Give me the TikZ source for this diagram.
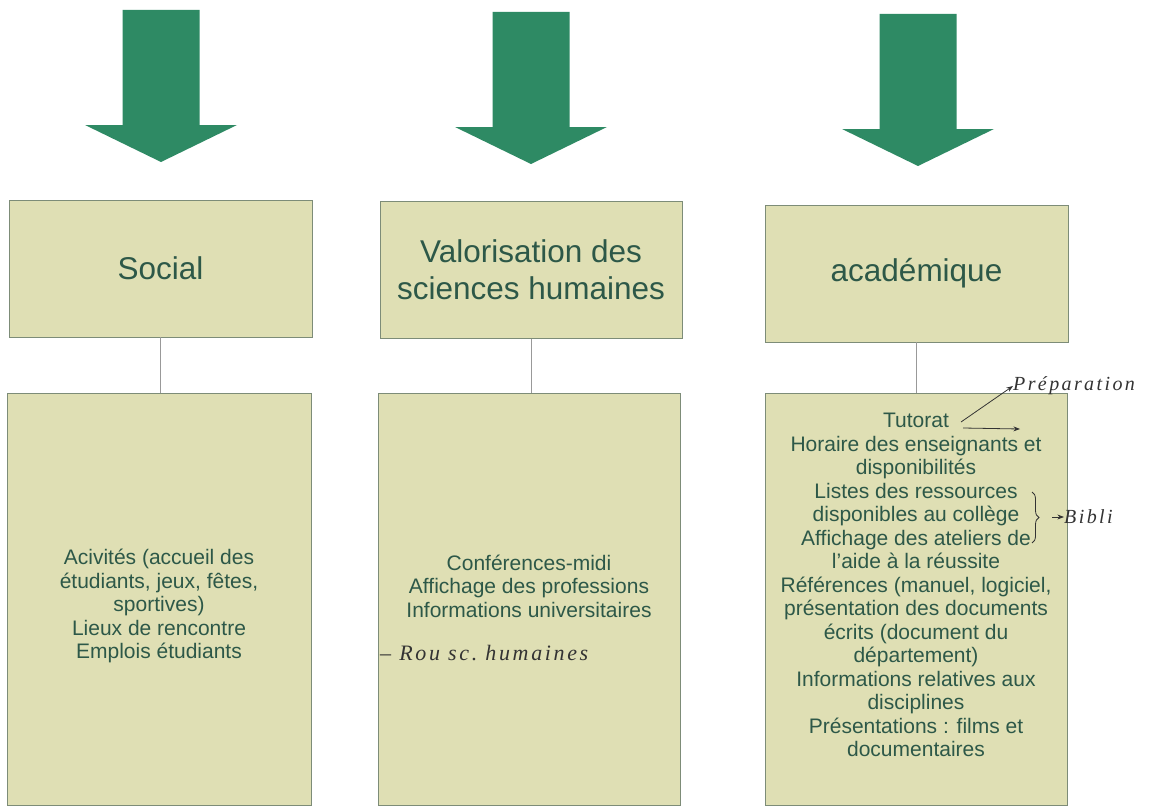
\documentclass[tikz,border=0pt]{standalone}
\usepackage{fontspec}
\setmainfont{Liberation Sans}
\newfontfamily\handfont[LetterSpace=12]{Liberation Serif}
\usetikzlibrary{arrows.meta, positioning, decorations.pathreplacing}

\definecolor{boxfill}{RGB}{223,223,180}
\definecolor{boxline}{RGB}{125,140,120}
\definecolor{arrowgreen}{RGB}{46,138,100}
\definecolor{textgreen}{RGB}{45,88,72}

\begin{document}
\begin{tikzpicture}[
    x=1pt, y=-1pt,
    title box/.style={rectangle, draw=boxline, fill=boxfill, minimum width=303pt, minimum height=137pt, inner sep=0pt, align=center, text=textgreen, font=\fontsize{31.5}{37}\selectfont},
    list box/.style={rectangle, draw=boxline, fill=boxfill, minimum width=303pt, minimum height=412pt, inner sep=0pt},
    list text/.style={inner sep=0pt, align=center, text=textgreen, font=\fontsize{21}{23.5}\selectfont},
    link/.style={draw=gray!80, line width=0.8pt},
    hand/.style={inner sep=0pt, text=black!80, font=\handfont\itshape\fontsize{20}{24}\selectfont},
    hand line/.style={black!80, line width=0.8pt},
    >=Stealth
]
    \fill[white] (0,0) rectangle (1160,808);
    \useasboundingbox (0,0) rectangle (1160,808);

    % Big arrows on top
    \foreach \tx/\ty in {161/10, 531/12, 918/14}
        \fill[arrowgreen] (\tx-38.5,\ty) -- (\tx+38.5,\ty) -- (\tx+38.5,\ty+115) -- (\tx+76,\ty+115)
            -- (\tx,\ty+152) -- (\tx-76,\ty+115) -- (\tx-38.5,\ty+115) -- cycle;

    % Headings
    \node[title box] (soc) at (160.5,268.5) {Social};
    \node[title box, minimum width=302pt] (val) at (531,270) {Valorisation des\\sciences humaines};
    \node[title box] (aca) at (916.5,273.5) {académique};

    % Lists
    \node[list box, minimum width=304pt] (socL) at (159,599) {};
    \node[list box, minimum width=302pt] (valL) at (529,599) {};
    \node[list box, minimum width=302pt] (acaL) at (916,599) {};

    \draw[link] (soc.south) -- (soc.south |- socL.north);
    \draw[link] (val.south) -- (val.south |- valL.north);
    \draw[link] (aca.south) -- (aca.south |- acaL.north);

    \node[list text] (socT) at (159,606) {Acivités (accueil des\\étudiants, jeux, fêtes,\\sportives)\\Lieux de rencontre\\Emplois étudiants};
    \node[list text] (valT) at (529,586) {Conférences-midi\\Affichage des professions\\Informations universitaires};
    \node[list text] (acaT) at (916,585) {Tutorat\\Horaire des enseignants et\\disponibilités\\Listes des ressources\\disponibles au collège\\Affichage des ateliers de\\l’aide à la réussite\\Références (manuel, logiciel,\\présentation des documents\\écrits (document du\\département)\\Informations relatives aux\\disciplines\\Présentations : films et\\documentaires};

    % Handwritten notes
    \coordinate (tutA) at (961,422);
    \coordinate (tutB) at (963,428);
    \coordinate (tutC) at (1020,429);
    \coordinate (brTop) at (1032,492);
    \coordinate (brBot) at (1032,543);
    \coordinate (brMid) at (1052,517);
    \node[hand, anchor=west] (prep) at (1013,386) {Préparation};
    \node[hand, anchor=west, right=12pt of brMid] (bib) {Bibli};
    \node[hand, anchor=west, font=\handfont\itshape\fontsize{22}{26}\selectfont] (rou) at (380,653) {– Rou sc.\ humaines};
    \draw[hand line, ->] (tutA) -- (prep.west);
    \draw[hand line, ->] (tutB) -- (tutC);
    \draw[hand line, decorate, decoration={brace, amplitude=7pt}] (brTop) -- (brBot);
    \draw[hand line, ->] (brMid) -- (bib.west);
\end{tikzpicture}
\end{document}
